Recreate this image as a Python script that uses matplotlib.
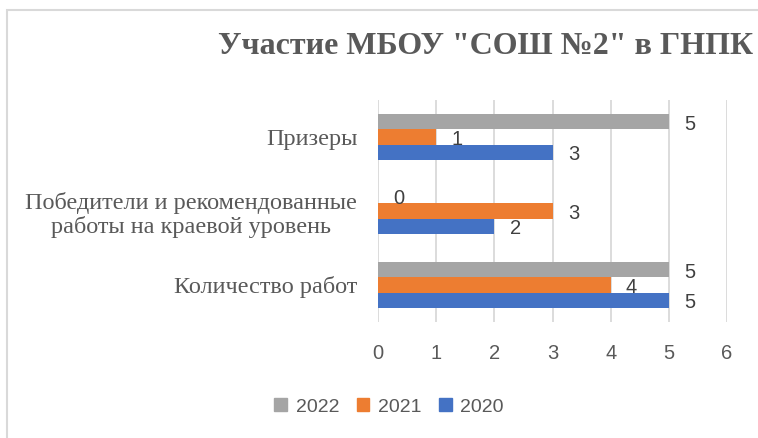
import matplotlib
matplotlib.use('Agg')
import matplotlib.pyplot as plt
import numpy as np
from matplotlib.patches import Rectangle, Patch

# данные
categories = ['Количество работ',
              'Победители и рекомендованные\nработы на краевой уровень',
              'Призеры']
years = ['2020', '2021', '2022']
vals_2020 = [5, 2, 3]
vals_2021 = [4, 3, 1]
vals_2022 = [5, 0, 5]
colors = ['#4472C4', '#ED7D31', '#A5A5A5']
x_ticks = [0, 1, 2, 3, 4, 5, 6]

TXT = '#595959'
W, H, DPI = 758, 438, 100

fig = plt.figure(figsize=(W / DPI, H / DPI), dpi=DPI)
fig.patch.set_facecolor('white')

# рамка диаграммы
fig.patches.append(Rectangle((7 / W, -0.1), 1.2, 1 - 10 / H + 0.1,
                             transform=fig.transFigure, fill=False,
                             edgecolor='#D9D9D9', linewidth=1.5))

ax = fig.add_axes([378 / W, 1 - 322 / H, (727 - 378) / W, (322 - 100) / H])

y = np.arange(len(categories))
bh = 0.205
series = [vals_2020, vals_2021, vals_2022]
for i, (vals, c) in enumerate(zip(series, colors)):
    pos = y + (i - 1) * bh
    ax.barh(pos, vals, height=bh, color=c, zorder=3)
    for p, v in zip(pos, vals):
        ax.annotate(str(v), (v, p), xytext=(11, -2), textcoords='offset points',
                    ha='left', va='center', fontsize=14.5, color='#404040',
                    family='Liberation Sans')

ax.set_xlim(0, 6)
ax.set_ylim(-0.5, 2.5)
ax.set_xticks(x_ticks)
ax.set_xticklabels([str(t) for t in x_ticks], fontsize=14.5, color=TXT,
                   family='Liberation Sans')
ax.set_yticks(y)
ax.set_yticklabels(categories, fontsize=17.5, color=TXT, family='Liberation Serif',
                   ha='right', multialignment='center', linespacing=1.15)
ax.tick_params(axis='x', length=0, pad=16)
ax.tick_params(axis='y', length=0, pad=15)
ax.grid(axis='x', color='#D9D9D9', linewidth=1.3, zorder=0)
for s in ax.spines.values():
    s.set_visible(False)

fig.text(218 / W, 1 - 47 / H, 'Участие МБОУ "СОШ №2" в ГНПК', fontsize=23,
         fontweight='bold', color=TXT, family='Liberation Serif',
         ha='left', va='center')

handles = [Patch(color=colors[2]), Patch(color=colors[1]), Patch(color=colors[0])]
fig.legend(handles, ['2022', '2021', '2020'], loc='center',
           bbox_to_anchor=(389 / W, 1 - 407 / H), ncol=3, frameon=False,
           prop={'family': 'Liberation Sans', 'size': 14},
           labelcolor=TXT, handlelength=0.65, handleheight=0.65,
           handletextpad=0.45, columnspacing=0.9)

fig.savefig('out.png', dpi=DPI)
